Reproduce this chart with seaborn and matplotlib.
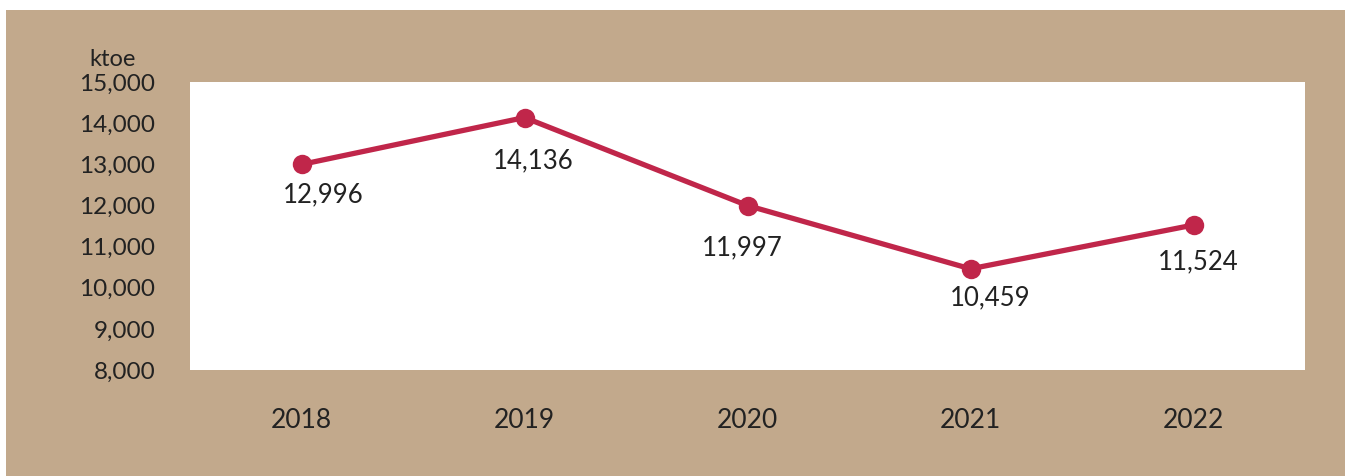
import matplotlib
matplotlib.use("Agg")
import matplotlib.pyplot as plt
import seaborn as sns
import pandas as pd
from matplotlib.patches import Rectangle

years = ["2018", "2019", "2020", "2021", "2022"]
values = [12996, 14136, 11997, 10459, 11524]
yticks = [8000, 9000, 10000, 11000, 12000, 13000, 14000, 15000]
unit_label = "ktoe"

sns.set_theme(style="white")
plt.rcParams["font.family"] = ["Lato", "DejaVu Sans"]

BEIGE = "#C2A98C"
LINE = "#C0264A"
TEXT = "#222222"

fig = plt.figure(figsize=(13.5, 4.76), dpi=100, facecolor="white")
fig.patches.append(Rectangle((6 / 1350, 0), (1345 - 6) / 1350, (476 - 10) / 476,
                             transform=fig.transFigure, facecolor=BEIGE,
                             edgecolor="none", zorder=-10))
ax = fig.add_axes([190 / 1350, (476 - 370) / 476, (1305 - 190) / 1350, (370 - 82) / 476])
ax.set_zorder(5)
ax.set_facecolor("white")

df = pd.DataFrame({"year": years, "value": values})
sns.lineplot(data=df, x="year", y="value", ax=ax, color=LINE, linewidth=3.8,
             marker="o", markersize=14, markeredgewidth=0, sort=False)

ax.set_xlim(-0.5, len(years) - 0.5)
ax.set_ylim(8000, 15000)
ax.set_yticks(yticks)
ax.set_yticklabels([f"{v:,}" for v in yticks])
ax.tick_params(axis="y", length=0, pad=25, labelsize=17.5, labelcolor=TEXT)
ax.tick_params(axis="x", length=0, pad=27, labelsize=19, labelcolor=TEXT)
ax.set_xlabel("")
ax.set_ylabel("")
for s in ax.spines.values():
    s.set_visible(False)
ax.grid(False)

# label offsets from each point, in pixels (dx right, dy down)
label_dx = [22, 9, -5, 20, 5]
label_dy = [30, 43, 42, 29, 37]
for i, v in enumerate(values):
    ax.annotate(f"{v:,}", (i, v), xytext=(label_dx[i] * 0.72, -label_dy[i] * 0.72),
                textcoords="offset points", ha="center", va="center",
                fontsize=18.5, color=TEXT)

fig.text(113 / 1350, 1 - 60 / 476, unit_label, ha="center", va="center", fontsize=17, color=TEXT)

fig.savefig("out.png", dpi=100, facecolor="white")
